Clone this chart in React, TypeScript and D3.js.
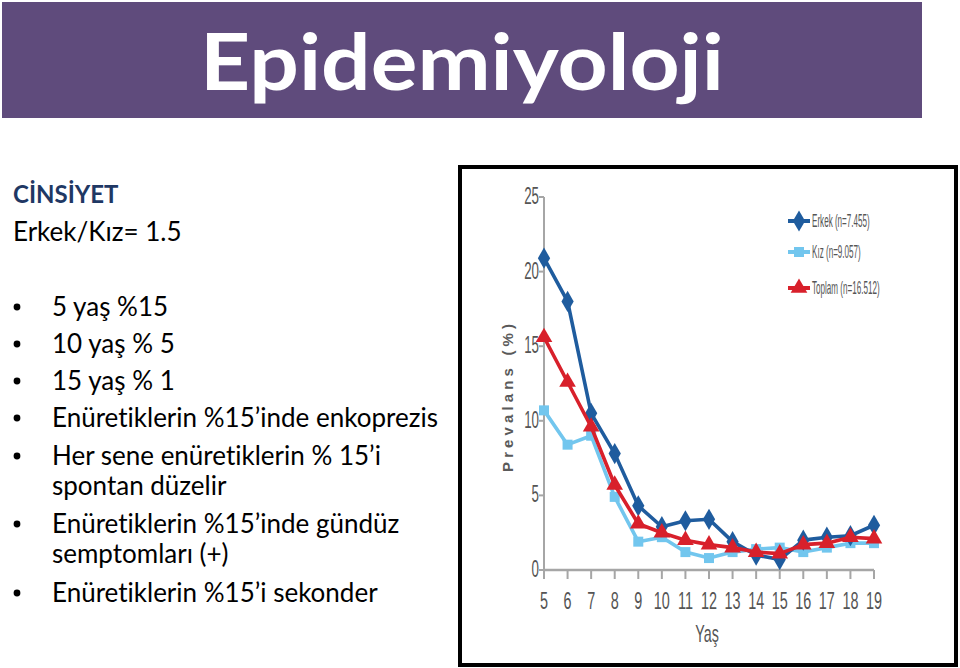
import React from "react";
import * as d3 from "d3";

const ages = [5, 6, 7, 8, 9, 10, 11, 12, 13, 14, 15, 16, 17, 18, 19];
const erkek = [20.9, 18.0, 10.5, 7.8, 4.3, 2.9, 3.3, 3.4, 1.9, 1.0, 0.7, 2.0, 2.2, 2.3, 3.0];
const kiz = [10.7, 8.4, 9.0, 4.9, 1.9, 2.2, 1.2, 0.8, 1.2, 1.4, 1.5, 1.2, 1.5, 1.8, 1.8];
const toplam = [15.6, 12.6, 9.6, 5.7, 3.1, 2.5, 2.0, 1.7, 1.5, 1.2, 1.1, 1.7, 1.8, 2.2, 2.1];
const yTicks = [0, 5, 10, 15, 20, 25];
const seriesNames = ["Erkek (n=7.455)", "Kız (n=9.057)", "Toplam (n=16.512)"];

const title = "Epidemiyoloji";
const heading = "CİNSİYET";
const ratioLine = "Erkek/Kız= 1.5";
const bulletItems: string[][] = [
  ["5 yaş %15"],
  ["10 yaş % 5"],
  ["15 yaş % 1"],
  ["Enüretiklerin %15’inde enkoprezis"],
  ["Her sene enüretiklerin % 15’i", "spontan düzelir"],
  ["Enüretiklerin %15’inde gündüz", "semptomları (+)"],
  ["Enüretiklerin %15’i sekonder"],
];

const COLORS = ["#1f5c9e", "#72c6ee", "#d8202b"];
const SYMBOLS = [d3.symbolDiamond, d3.symbolSquare, d3.symbolTriangle];

export default function App() {
  const x = d3.scaleLinear().domain([5, 19]).range([544, 874]);
  const y = d3.scaleLinear().domain([0, 25]).range([570, 197]);
  const data = [erkek, kiz, toplam];
  const line = d3
    .line<number>()
    .x((_, i) => x(ages[i]))
    .y((d) => y(d));
  const drawOrder = [1, 0, 2];
  const sym = (i: number, size: number) => d3.symbol().type(SYMBOLS[i]).size(size)() as string;
  const symSize = [130, 100, 120];

  const bodyFont = "Lato, 'Open Sans', sans-serif";
  const narrow = "'Liberation Sans', Arial, sans-serif";
  const noLig = { fontVariantLigatures: "none" as const };

  const lineBaselines = [316, 353, 390, 427, 465, 495, 533, 563, 602];
  let li = 0;
  const bulletEls: React.ReactNode[] = [];
  bulletItems.forEach((item, k) => {
    item.forEach((t, j) => {
      const by = lineBaselines[li++];
      if (j === 0)
        bulletEls.push(<circle key={"b" + k} cx={17} cy={by - 9} r={3.4} fill="#000" />);
      bulletEls.push(
        <text key={"t" + k + "_" + j} x={52} y={by} fontFamily={bodyFont} fontSize={26} fill="#000" style={noLig}>
          {t}
        </text>
      );
    });
  });

  return (
    <svg width={960} height={668} style={{ position: "absolute", left: 0, top: 0, background: "#fff" }}>
      <rect x={0} y={0} width={960} height={668} fill="#fff" />
      <rect x={2} y={2} width={920} height={116} fill="#5f4b7c" />
      <text
        x={462}
        y={90}
        textAnchor="middle"
        fontFamily={bodyFont}
        fontSize={78}
        fontWeight={700}
        fill="#fff"
        textLength={524}
        lengthAdjust="spacingAndGlyphs"
        style={noLig}
      >
        {title}
      </text>

      <text x={13} y={203} fontFamily={bodyFont} fontSize={24} fontWeight={700} fill="#1f3864" style={noLig}>
        {heading}
      </text>
      <text x={13} y={241} fontFamily={bodyFont} fontSize={26} fill="#000" style={noLig}>
        {ratioLine}
      </text>
      {bulletEls}

      <rect x={460} y={167} width={496} height={498} fill="#fff" stroke="#000" strokeWidth={4} />

      <line x1={544} x2={544} y1={y(25)} y2={y(0)} stroke="#a6a6a6" strokeWidth={2} />
      <line x1={544} x2={x(19)} y1={y(0)} y2={y(0)} stroke="#a6a6a6" strokeWidth={2.5} />
      {yTicks.map((t) => (
        <g key={"yt" + t}>
          <line x1={539} x2={544} y1={y(t)} y2={y(t)} stroke="#a6a6a6" strokeWidth={2} />
          <text
            transform={`translate(539,${y(t) + 7}) scale(0.58,1)`}
            textAnchor="end"
            fontFamily={narrow}
            fontSize={23}
            fill="#555"
          >
            {t}
          </text>
        </g>
      ))}
      {ages.map((a) => (
        <g key={"xt" + a}>
          <line x1={x(a)} x2={x(a)} y1={y(0)} y2={y(0) + 9} stroke="#a6a6a6" strokeWidth={2} />
          <text
            transform={`translate(${x(a)},${609}) scale(0.6,1)`}
            textAnchor="middle"
            fontFamily={narrow}
            fontSize={24}
            fill="#555"
          >
            {a}
          </text>
        </g>
      ))}
      <text
        transform={`translate(513,${398}) rotate(-90)`}
        textAnchor="middle"
        fontFamily={narrow}
        fontSize={15}
        fontWeight={700}
        fill="#5a5a5a"
        textLength={148}
        lengthAdjust="spacing"
      >
        Prevalans (%)
      </text>
      <text
        transform={`translate(707,642) scale(0.62,1)`}
        textAnchor="middle"
        fontFamily={narrow}
        fontSize={23}
        fill="#555"
      >
        Yaş
      </text>

      {drawOrder.map((si) => (
        <g key={"s" + si}>
          <path d={line(data[si]) as string} fill="none" stroke={COLORS[si]} strokeWidth={3.6} strokeLinejoin="round" />
          {data[si].map((v, i) => (
            <path key={i} d={sym(si, symSize[si])} transform={`translate(${x(ages[i])},${y(v)})`} fill={COLORS[si]} />
          ))}
        </g>
      ))}

      {seriesNames.map((n, i) => {
        const ly = [221, 252, 288][i];
        return (
          <g key={"lg" + i}>
            <line x1={788} x2={810} y1={ly} y2={ly} stroke={COLORS[i]} strokeWidth={4} />
            <path d={sym(i, symSize[i])} transform={`translate(799,${ly})`} fill={COLORS[i]} />
            <text transform={`translate(812,${ly + 6}) scale(0.45,1)`} fontFamily={narrow} fontSize={18} fill="#555">
              {n}
            </text>
          </g>
        );
      })}
    </svg>
  );
}
